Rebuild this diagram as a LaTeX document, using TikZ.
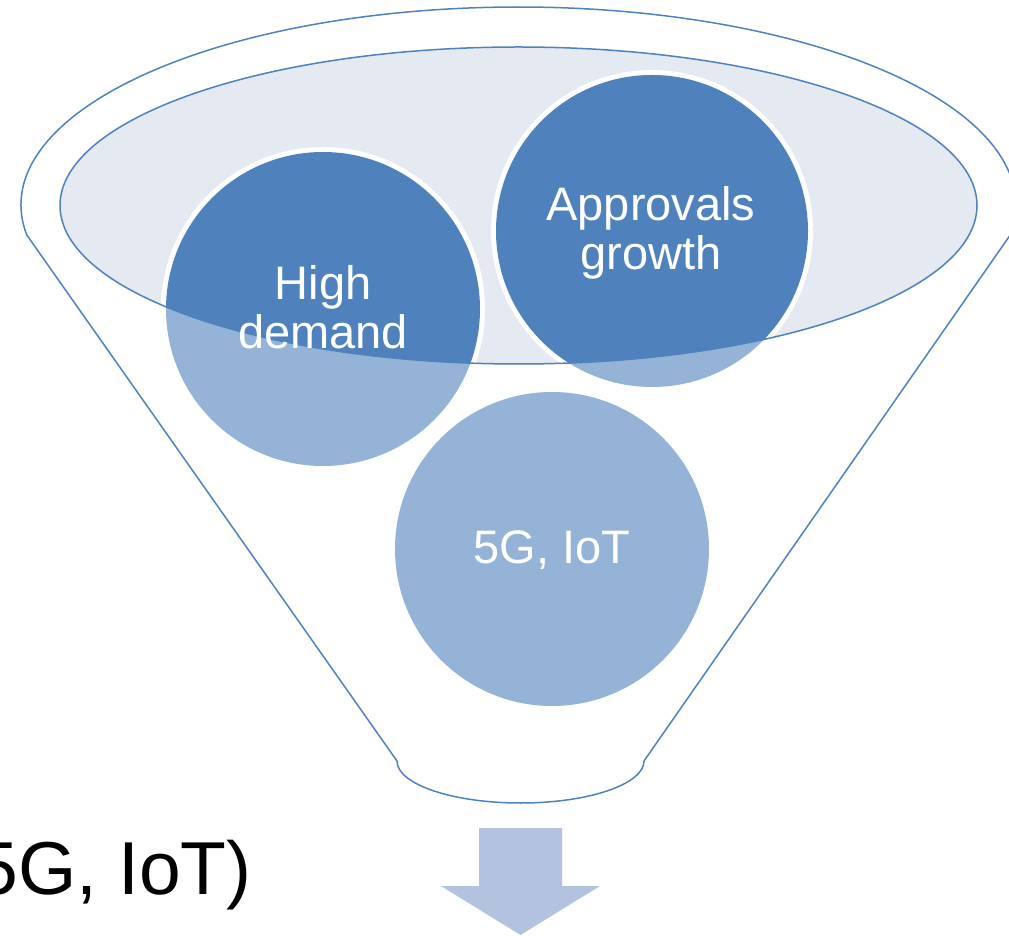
\documentclass[tikz,border=0pt]{standalone}
\usepackage{fontspec}
\setmainfont{Liberation Sans}
\definecolor{accent}{HTML}{4F81BD}
\definecolor{darkblue}{HTML}{4F81BD}
\definecolor{lightblue}{HTML}{95B3D7}
\definecolor{ellfill}{HTML}{E4E9F2}
\definecolor{arrowblue}{HTML}{B3C3DF}
\begin{document}
\begin{tikzpicture}[x=1pt,y=1pt,
  outline/.style={draw=accent, line width=1.5pt},
  lightdisc/.style={fill=lightblue},
  darkdisc/.style={fill=darkblue},
  ring/.style={fill=white},
  disclabel/.style={text=white, font=\fontsize{47}{49}\selectfont, align=center, inner sep=0pt},
  biglabel/.style={text=black, font=\fontsize{75}{80}\selectfont, inner sep=0pt}]
\useasboundingbox (0,0) rectangle (1009,935);
\clip (0,0) rectangle (1009,935);
% funnel outline
\draw[outline] (518.5,730) ++(188.71:497.5 and 198)
  arc[start angle=188.71, end angle=-8.71, x radius=497.5, y radius=198]
  -- (644,174)
  arc[start angle=0, end angle=-180, x radius=123.5, y radius=42]
  -- cycle;
% inner ellipse fill
\fill[ellfill] (518.5,729.5) ellipse [x radius=458.5, y radius=158.5];
% light discs
\fill[lightdisc] (323,626) circle [radius=157];
\fill[lightdisc] (652,704) circle [radius=156];
\fill[lightdisc] (552,386) circle [radius=157];
% dark parts inside the ellipse, with white rings
\begin{scope}
  \clip (518.5,729.5) ellipse [x radius=458.5, y radius=158.5];
  \fill[ring] (323,626) circle [radius=162];
  \fill[ring] (652,704) circle [radius=161];
  \fill[darkdisc] (323,626) circle [radius=157];
  \fill[darkdisc] (652,704) circle [radius=156];
\end{scope}
% ellipse outline
\draw[outline] (518.5,729.5) ellipse [x radius=458.5, y radius=158.5];
% labels
\node[disclabel] (hd) at (323,628) {High\\demand};
\node[disclabel] (ag) at (651,702) {Approvals\\growth};
\node[disclabel] (iot) at (552,385) {5G, IoT};
% arrow
\fill[arrowblue] (479,107) -- (562,107) -- (562,49) -- (600,49) -- (520.5,0) -- (441,49) -- (479,49) -- cycle;
% big text
\node[biglabel, anchor=base east] (big) at (252,41) {5G, IoT)};
\end{tikzpicture}
\end{document}
